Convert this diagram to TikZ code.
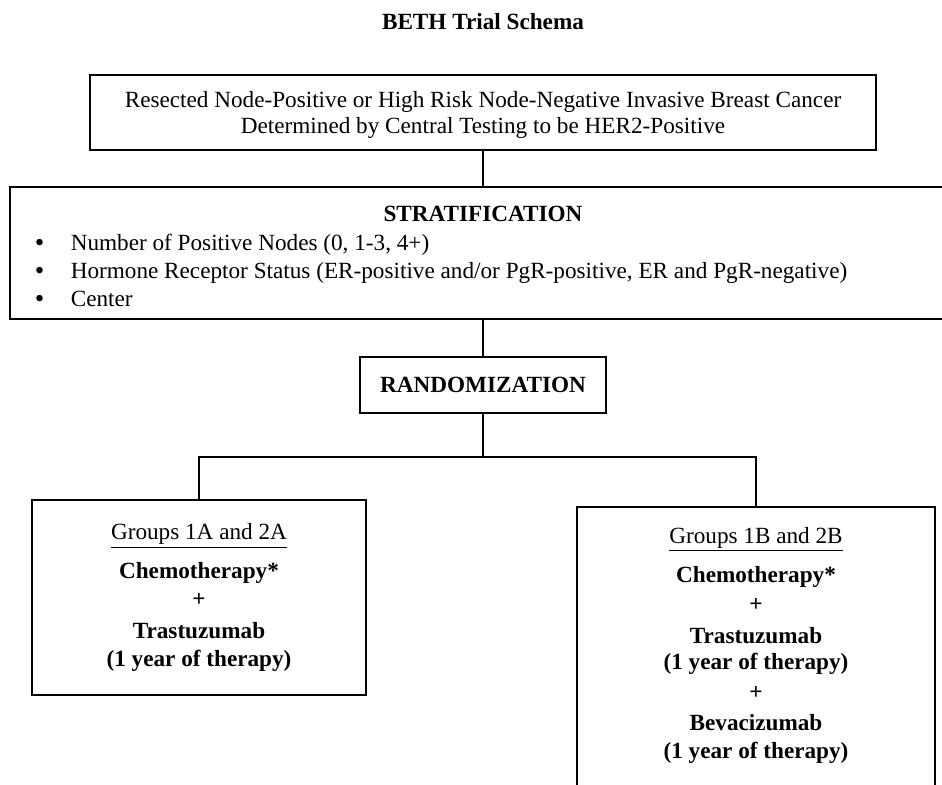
\documentclass[tikz,border=0pt]{standalone}
\usepackage{fontspec}
\setmainfont{Liberation Serif}
\usetikzlibrary{positioning}
\newcommand{\stratbullet}{\makebox[18pt][l]{\raisebox{-0.1ex}{\fontsize{13.5}{14}\selectfont\textbullet}}}

\begin{document}
\begin{tikzpicture}[x=0.5pt, y=-0.5pt, line width=0.8pt, every node/.style={align=center, inner sep=0pt, font=\fontsize{11.6}{14}\selectfont}, box/.style={draw, line width=1pt}]
    \useasboundingbox (0,0) rectangle (942,785);
    \clip (0,0) rectangle (942,785);

    % title
    \node (title) at (483,22) {\textbf{BETH Trial Schema}};

    % eligibility
    \node (elig) [box, minimum width=393pt, minimum height=37.5pt] at (483,112.5) {};
    \node (eligtext) [font=\fontsize{11.6}{13}\selectfont] at (483,115) {Resected Node-Positive or High Risk Node-Negative Invasive Breast Cancer\\Determined by Central Testing to be HER2-Positive};

    % stratification
    \node (strat) [box, minimum width=480pt, minimum height=66pt] at (490,253) {};
    \node (strathead) at (483,214) {\textbf{STRATIFICATION}};
    \node (stratlist) [align=left, anchor=west] at (34,271) {\stratbullet Number of Positive Nodes (0, 1-3, 4+)\\\stratbullet Hormone Receptor Status (ER-positive and/or PgR-positive, ER and PgR-negative)\\\stratbullet Center};

    % randomization
    \node (rand) [box, minimum width=123pt, minimum height=28pt] at (483,385) {\textbf{RANDOMIZATION}};

    % treatment arms
    \node (armA) [box, minimum width=167pt, minimum height=97.5pt] at (199,597.5) {\underline{Groups 1A and 2A}\\[5.5pt]\textbf{Chemotherapy*}\\\textbf{+}\\[2pt]\textbf{Trastuzumab}\\\textbf{(1 year of therapy)}};
    \node (armB) [box, minimum width=179pt, minimum height=150pt, anchor=north] at (756,506) {};
    \node (armBtext) at (756,645) {\underline{Groups 1B and 2B}\\[5.5pt]\textbf{Chemotherapy*}\\[0.5pt]\textbf{+}\\[2pt]\textbf{Trastuzumab}\\[-1pt]\textbf{(1 year of therapy)}\\[1pt]\textbf{+}\\[1.5pt]\textbf{Bevacizumab}\\\textbf{(1 year of therapy)}};

    \draw (elig.south) -- (elig.south |- strat.north);
    \draw (strat.south -| rand.north) -- (rand.north);
    \coordinate (split) at (483,457);
    \draw (rand.south) -- (split);
    \draw (split) -| (armA.north);
    \draw (split) -| (armB.north);
\end{tikzpicture}
\end{document}
